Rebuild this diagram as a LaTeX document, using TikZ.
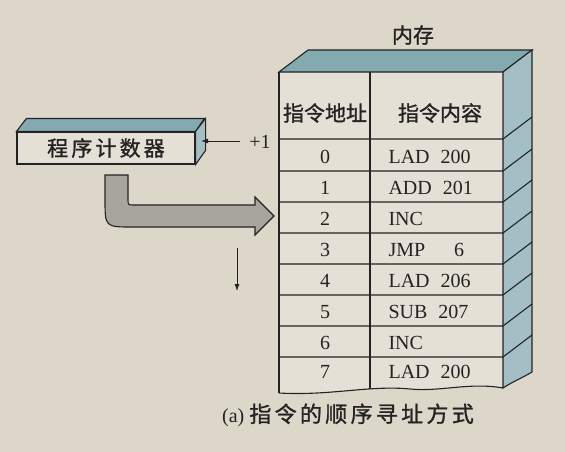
\documentclass[tikz,border=0pt]{standalone}
\usepackage{fontspec}
\usetikzlibrary{arrows.meta}
\setmainfont{Liberation Serif}
\newfontfamily\cjk{Noto Sans CJK SC}[FakeBold=1.2]
\newfontfamily\cjkwide{Noto Sans CJK SC}[LetterSpace=15, FakeBold=1.2]
\definecolor{ink}{RGB}{35,35,35}
\definecolor{paper}{RGB}{221,215,202}
\definecolor{face}{RGB}{229,224,213}
\definecolor{topface}{RGB}{132,170,177}
\definecolor{sideface}{RGB}{163,191,197}
\definecolor{bend}{RGB}{168,165,156}
\newcommand{\gp}{\hspace{0.55em}}
\tikzstyle{celltext}=[inner sep=0, font=\fontsize{20}{23}\selectfont]
\tikzstyle{instr}=[celltext, anchor=west]
\tikzstyle{hanzi}=[inner sep=0, font=\cjk\fontsize{21}{24}\selectfont]
\tikzstyle{pcbox}=[rectangle, draw, fill=face, minimum width=178, minimum height=32, inner sep=0, font=\cjkwide\fontsize{21}{24}\selectfont]

\begin{document}
\begin{tikzpicture}[x=1pt, y=-1pt, line width=1.1pt, >={Latex[length=7pt, width=5pt]}, color=ink]
                \fill[paper] (0,0) rectangle (565,452);
                \useasboundingbox (0,0) rectangle (565,452);
                \fill[face] (279,72) -- (503,72) -- (503,388) .. controls (470,382) and (440,392) .. (410,389) .. controls (370,385) and (330,396) .. (279,393) -- cycle;
                \draw[fill=topface] (279,72) -- (308,50) -- (532,50) -- (503,72) -- cycle;
                \draw[fill=sideface] (503,72) -- (532,50) -- (532,372) .. controls (522,378) and (512,382) .. (503,388) -- cycle;
                \draw (279,72) -- (279,393);
                \draw (503,388) .. controls (470,382) and (440,392) .. (410,389) .. controls (370,385) and (330,396) .. (279,393);
                \draw (370,72) -- (370,389);
                \draw (279,139) -- (503,139) -- (532,117);
                \draw (279,171) -- (503,171) -- (532,149);
                \draw (279,202) -- (503,202) -- (532,180);
                \draw (279,233) -- (503,233) -- (532,211);
                \draw (279,264) -- (503,264) -- (532,242);
                \draw (279,295) -- (503,295) -- (532,273);
                \draw (279,326) -- (503,326) -- (532,304);
                \draw (279,357) -- (503,357) -- (532,335);
                \node[hanzi] (mem) at (413,35) {内存};
                \node[hanzi] (h1) at (325,113) {指令地址};
                \node[hanzi] (h2) at (440,113) {指令内容};
                \node[celltext] (a0) at (325,157) {0};
                \node[celltext] (a1) at (325,188) {1};
                \node[celltext] (a2) at (325,219) {2};
                \node[celltext] (a3) at (325,250) {3};
                \node[celltext] (a4) at (325,281) {4};
                \node[celltext] (a5) at (325,312) {5};
                \node[celltext] (a6) at (325,343) {6};
                \node[celltext] (a7) at (325,372) {7};
                \node[instr] (c0) at (388,157) {LAD\gp200};
                \node[instr] (c1) at (388,188) {ADD\gp201};
                \node[instr] (c2) at (388,219) {INC};
                \node[instr] (c3) at (388,250) {JMP\hspace{29pt}6};
                \node[instr] (c4) at (388,281) {LAD\gp206};
                \node[instr] (c5) at (388,312) {SUB\gp207};
                \node[instr] (c6) at (388,343) {INC};
                \node[instr] (c7) at (388,372) {LAD\gp200};
                \node[pcbox] (pc) at (106,148) {程序计数器};
                \draw[fill=topface] (pc.north west) -- ++(10,-13) -- ++(178,0) -- (pc.north east) -- cycle;
                \draw[fill=sideface] (pc.north east) -- ++(10,-13) -- ++(0,32) -- (pc.south east) -- cycle;
                \node[celltext, inner xsep=9pt] (inc) at (260,142) {+1};
                \coordinate (pcside) at (201,141);
                \draw[->, line width=0.9pt]  (inc.west |- pcside) -- (pcside);
                \draw[fill=bend] (105,175) -- (128,175) -- (128,199) .. controls (128,205) .. (134,205) -- (255,205) -- (255,197) -- (274,216) -- (255,235) -- (255,227) -- (132,227) .. controls (105,227) .. (105,199) -- cycle;
                \coordinate (s1) at (237,248);
                \coordinate (s2) at (237,291);
                \draw[->, line width=0.8pt]  (s1) -- (s2);
                \node[celltext] (cap) at (348,415) {(a)\ {\cjkwide\fontsize{22}{24}\selectfont 指令的顺序寻址方式}};
            \end{tikzpicture}
\end{document}
